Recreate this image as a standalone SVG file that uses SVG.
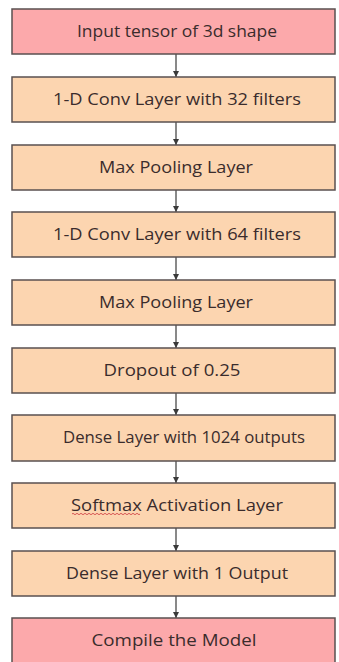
<svg xmlns="http://www.w3.org/2000/svg" width="339" height="662" viewBox="0 0 339 662">
<defs>
<style>
.box{stroke:#5a5050;stroke-width:1.5}
.pink{fill:#fca9ab}
.peach{fill:#fcd5b0}
.lbl{font-family:"Open Sans","Liberation Sans",sans-serif;font-size:15.5px;font-weight:500;fill:#3a2c2c;text-anchor:middle}
.conn{stroke:#4a4a4a;stroke-width:1.3;fill:none}
.squig{stroke:#d24a4a;stroke-width:0.9;fill:none}
</style>
<marker id="ah" viewBox="0 0 8 8" refX="8" refY="4" markerWidth="6" markerHeight="6" orient="auto" markerUnits="userSpaceOnUse">
<path d="M0,0 L8,4 L0,8 z" fill="#3a3a3a"/>
</marker>
</defs>
<rect width="339" height="662" fill="#ffffff"/>
<g id="connectors">
<line class="conn" x1="176" y1="54" x2="176" y2="77" marker-end="url(#ah)"/>
<line class="conn" x1="176" y1="122" x2="176" y2="145" marker-end="url(#ah)"/>
<line class="conn" x1="176" y1="190" x2="176" y2="212" marker-end="url(#ah)"/>
<line class="conn" x1="176" y1="257" x2="176" y2="280" marker-end="url(#ah)"/>
<line class="conn" x1="176" y1="325" x2="176" y2="348" marker-end="url(#ah)"/>
<line class="conn" x1="176" y1="393" x2="176" y2="415" marker-end="url(#ah)"/>
<line class="conn" x1="176" y1="461" x2="176" y2="483" marker-end="url(#ah)"/>
<line class="conn" x1="176" y1="528" x2="176" y2="551" marker-end="url(#ah)"/>
<line class="conn" x1="176" y1="596" x2="176" y2="618" marker-end="url(#ah)"/>
</g>
<g id="n1"><rect class="box pink" x="12" y="9" width="323" height="45"/><text class="lbl" x="177" y="37" textLength="200" lengthAdjust="spacingAndGlyphs">Input tensor of 3d shape</text></g>
<g id="n2"><rect class="box peach" x="12" y="77" width="323" height="45"/><text class="lbl" x="177" y="105" textLength="248" lengthAdjust="spacingAndGlyphs">1-D Conv Layer with 32 filters</text></g>
<g id="n3"><rect class="box peach" x="12" y="145" width="323" height="45"/><text class="lbl" x="176" y="173" textLength="154" lengthAdjust="spacingAndGlyphs">Max Pooling Layer</text></g>
<g id="n4"><rect class="box peach" x="12" y="212" width="323" height="45"/><text class="lbl" x="177" y="240" textLength="248" lengthAdjust="spacingAndGlyphs">1-D Conv Layer with 64 filters</text></g>
<g id="n5"><rect class="box peach" x="12" y="280" width="323" height="45"/><text class="lbl" x="176" y="308" textLength="154" lengthAdjust="spacingAndGlyphs">Max Pooling Layer</text></g>
<g id="n6"><rect class="box peach" x="12" y="348" width="323" height="45"/><text class="lbl" x="172" y="376" textLength="137" lengthAdjust="spacingAndGlyphs">Dropout of 0.25</text></g>
<g id="n7"><rect class="box peach" x="12" y="415" width="323" height="46"/><text class="lbl" x="184" y="443" textLength="242" lengthAdjust="spacingAndGlyphs">Dense Layer with 1024 outputs</text></g>
<g id="n8"><rect class="box peach" x="12" y="483" width="323" height="45"/><text class="lbl" x="177" y="511" textLength="212" lengthAdjust="spacingAndGlyphs">Softmax Activation Layer</text><path class="squig" d="M72,514 q1,-1.4 2,0 t2,0 t2,0 t2,0 t2,0 t2,0 t2,0 t2,0 t2,0 t2,0 t2,0 t2,0 t2,0 t2,0 t2,0 t2,0 t2,0 t2,0 t2,0 t2,0 t2,0 t2,0 t2,0 t2,0 t2,0 t2,0 t2,0 t2,0 t2,0 t2,0 t2,0 t2,0 t2,0 t2,0"/></g>
<g id="n9"><rect class="box peach" x="12" y="551" width="323" height="45"/><text class="lbl" x="177" y="579" textLength="222" lengthAdjust="spacingAndGlyphs">Dense Layer with 1 Output</text></g>
<g id="n10"><rect class="box pink" x="12" y="618" width="323" height="50"/><text class="lbl" x="174" y="646" textLength="165" lengthAdjust="spacingAndGlyphs">Compile the Model</text></g>
</svg>
